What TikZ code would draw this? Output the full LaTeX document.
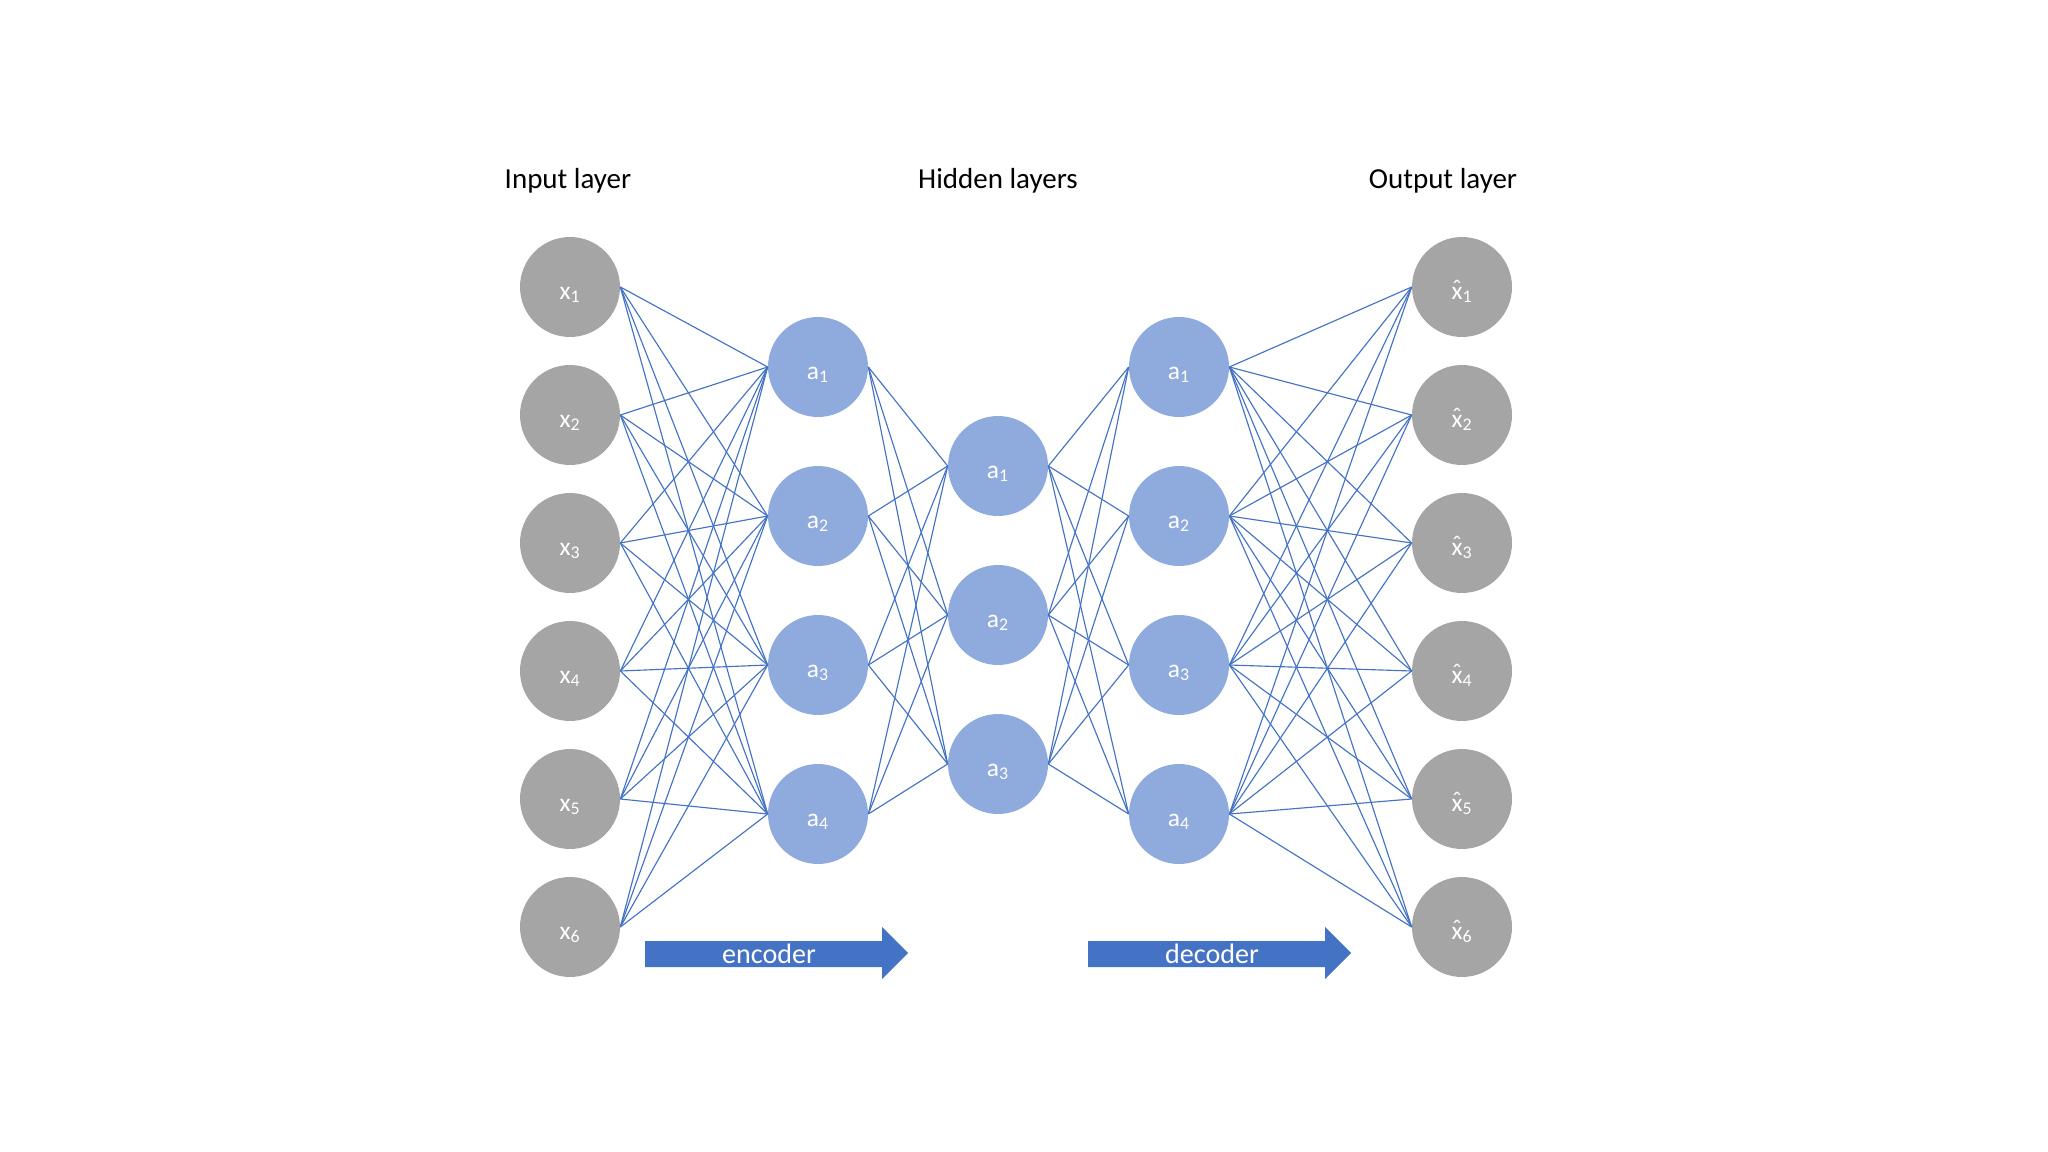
\documentclass[tikz,border=0pt]{standalone}
\usepackage{fontspec}
\setmainfont{Carlito}
\newcommand{\xhat}{\ooalign{x\cr\hidewidth\raisebox{0.12ex}{ˆ}\hidewidth\cr}}
\begin{document}
\begin{tikzpicture}[x=0.02cm,y=-0.02cm,
  nodetext/.style={text=white,font=\fontsize{14.5}{16}\selectfont,text height=14.5pt,text depth=0.8pt},
  inp/.style={circle,fill=nodegray,minimum size=2cm,inner sep=0pt,nodetext},
  hid/.style={circle,fill=nodeblue,minimum size=2cm,inner sep=0pt,nodetext},
  conn/.style={draw=lineblue,line width=0.65pt},
  lbl/.style={font=\fontsize{16.5}{19}\selectfont,text=black},
  arr/.style={fill=arrowblue},
  arrtext/.style={font=\fontsize{16}{19}\selectfont,text=white,anchor=base}]
\definecolor{nodegray}{HTML}{A5A5A5}
\definecolor{nodeblue}{HTML}{8FAADC}
\definecolor{lineblue}{HTML}{4472C4}
\definecolor{arrowblue}{HTML}{4472C4}
\useasboundingbox (0,0) rectangle (2048,1152);
\fill[white] (0,0) rectangle (2048,1152);

\node[lbl] (tin) at (568,181) {Input layer};
\node[lbl] (thid) at (998,181) {Hidden layers};
\node[lbl] (tout) at (1443,181) {Output layer};

\foreach \i/\y in {1/287,2/415,3/543,4/671,5/799,6/927}{
  \node[inp] (x\i) at (570,\y) {x\textsubscript{\i}};
  \node[inp] (o\i) at (1462,\y) {\xhat\textsubscript{\i}};
}
\foreach \i/\y in {1/367,2/516,3/665,4/814}{
  \node[hid] (h\i) at (818,\y) {a\textsubscript{\i}};
  \node[hid] (g\i) at (1179,\y) {a\textsubscript{\i}};
}
\foreach \i/\y in {1/466,2/615,3/764}{
  \node[hid] (m\i) at (998,\y) {a\textsubscript{\i}};
}

\foreach \i in {1,...,6}{
  \foreach \j in {1,...,4}{
    \draw[conn] (x\i.east) -- (h\j.west);
    \draw[conn] (g\j.east) -- (o\i.west);
  }
}
\foreach \j in {1,...,4}{
  \foreach \k in {1,2,3}{
    \draw[conn] (h\j.east) -- (m\k.west);
    \draw[conn] (m\k.east) -- (g\j.west);
  }
}

\fill[arr] (645,941) -- (882,941) -- (882,927) -- (908,953) -- (882,979) -- (882,967) -- (645,967) -- cycle;
\node[arrtext] (enc) at (769,963) {encoder};
\fill[arr] (1088,941) -- (1325,941) -- (1325,927) -- (1351,953) -- (1325,979) -- (1325,967) -- (1088,967) -- cycle;
\node[arrtext] (dec) at (1212,963) {decoder};
\end{tikzpicture}
\end{document}
